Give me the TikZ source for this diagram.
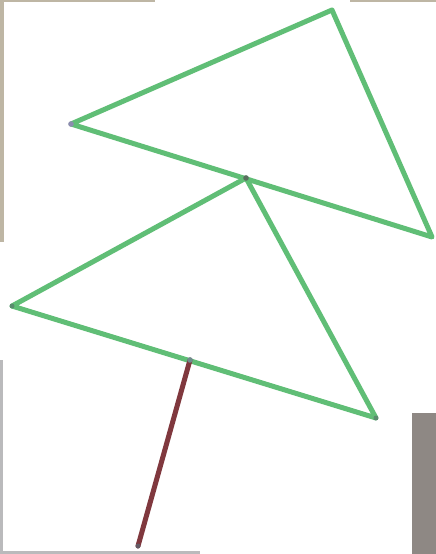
\documentclass[tikz,border=0pt]{standalone}
\begin{document}
\begin{tikzpicture}[x=1pt,y=-1pt,
  edgeline/.style={line width=5pt,draw=greenline,line cap=round,line join=round},
  rodline/.style={line width=5pt,draw=rodcol,line cap=round},
  joint/.style={fill=#1,draw=none},
  frameA/.style={fill=beigeframe,draw=none},
  frameB/.style={fill=grayframe,draw=none}]
\definecolor{greenline}{RGB}{96,190,118}
\definecolor{rodcol}{RGB}{128,56,62}
\definecolor{beigeframe}{RGB}{190,182,164}
\definecolor{grayframe}{RGB}{186,186,188}
\definecolor{darkgray}{RGB}{142,136,132}
\definecolor{jointA}{RGB}{140,140,175}
\definecolor{jointD}{RGB}{90,110,95}
\definecolor{jointE}{RGB}{90,140,110}
\definecolor{jointG}{RGB}{110,140,140}
\definecolor{jointH}{RGB}{100,90,100}
\useasboundingbox (0,0) rectangle (436,554);
\fill[white] (0,0) rectangle (436,554);
% background frame fragments
\fill[frameA] (0,0) rectangle (155,2);
\fill[frameA] (0,0) rectangle (4,242);
\fill[frameA] (350,0) rectangle (436,2);
\fill[frameB] (0,360) rectangle (3,554);
\fill[frameB] (0,551) rectangle (200,554);
\fill[darkgray] (412,413) rectangle (436,554);
% points
\coordinate (A) at (71,124);
\coordinate (B) at (332,10);
\coordinate (C) at (432,237);
\coordinate (D) at (246,178);
\coordinate (E) at (12,306);
\coordinate (F) at (376,418);
\coordinate (G) at (190,360);
\coordinate (H) at (138,546);
% triangles
\draw[edgeline] (A) -- (B) -- (C) -- cycle;
\draw[edgeline] (D) -- (E) -- (F) -- cycle;
% rod
\draw[rodline] (G) -- (H);
% joints
\fill[joint=jointA] (A) circle (2.8);
\fill[joint=jointD] (D) circle (2.8);
\fill[joint=jointE] (E) circle (2.5);
\fill[joint=jointE] (F) circle (2.5);
\fill[joint=jointG] (G) circle (2.8);
\fill[joint=jointH] (H) circle (2.5);
\end{tikzpicture}
\end{document}
